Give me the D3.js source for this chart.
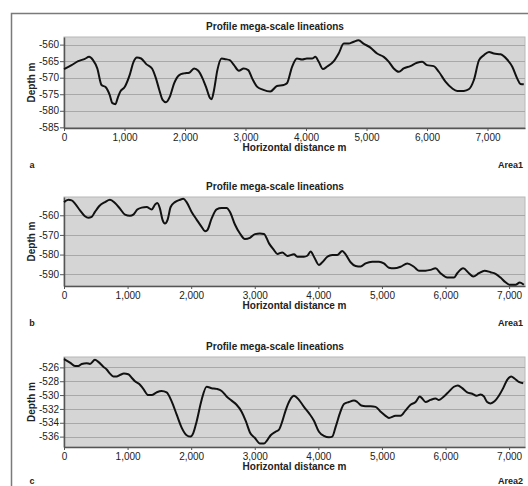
<!DOCTYPE html>
<html>
<head>
<meta charset="utf-8">
<script src="https://cdn.jsdelivr.net/npm/d3@7"></script>
<style>
  body { margin: 0; background: #fff; }
  text { font-family: "Liberation Sans", Arial, sans-serif; }
</style>
</head>
<body>
<div id="chart"></div>
<script>
// profile a (Area1)
var distA = [0, 125, 235, 345, 415, 480, 550, 620, 690, 755, 800, 850, 890, 930, 1000, 1085, 1150, 1205, 1275, 1360,
  1455, 1520, 1575, 1630, 1685, 1750, 1820, 1905, 1985, 2070, 2150, 2220, 2290, 2355, 2415, 2440, 2480, 2535, 2605, 2670,
  2740, 2810, 2890, 2970, 3045, 3110, 3190, 3285, 3410, 3520, 3630, 3685, 3770, 3850, 3935, 4015, 4100, 4155, 4210, 4280,
  4345, 4460, 4540, 4625, 4705, 4780, 4870, 4950, 5065, 5175, 5285, 5370, 5450, 5535, 5615, 5725, 5835, 5920, 6000, 6110,
  6195, 6305, 6415, 6500, 6610, 6690, 6775, 6860, 6940, 7025, 7105, 7215, 7325, 7410, 7490, 7545, 7600];
var depthA = [-567.4, -566.2, -565, -564.3, -563.7, -564.7, -567.2, -572.2, -572.9, -575.2, -577.7, -578, -576, -574.2, -572.9, -569.2, -565.2, -563.9, -564.2, -565.9,
  -567.2, -570.2, -573.7, -576.7, -577.4, -575.7, -571.7, -569.2, -568.7, -568.5, -567.2, -567.9, -570.2, -573.2, -576.2, -576.5, -573.7, -567.7, -564.2, -564.4,
  -564.7, -566.2, -567.9, -567.2, -567.7, -570.2, -572.7, -573.6, -574.2, -572.5, -572.2, -571.7, -566.7, -564.2, -564.5, -564.2, -564.2, -563.7, -565.2, -567.4,
  -566.7, -565, -562.7, -559.7, -559.7, -559.2, -558.7, -559.7, -560.9, -562.7, -563.7, -565.2, -567.2, -568.2, -567.2, -566.5, -565.5, -565.2, -566.2, -566.5,
  -568.2, -571.2, -573.2, -574, -574, -573.5, -570.7, -564.7, -563.2, -562.2, -562.7, -562.9, -564.5, -566.7, -570.2, -571.9, -572];

// profile b (Area1)
var distB = [0, 68, 120, 173, 252, 330, 383, 435, 487, 555, 645, 723, 802, 880, 959, 1038, 1090, 1153, 1221, 1300,
  1378, 1431, 1467, 1509, 1551, 1588, 1630, 1677, 1745, 1824, 1876, 1928, 2007, 2086, 2164, 2217, 2253, 2321, 2400, 2479,
  2557, 2610, 2688, 2767, 2845, 2924, 3003, 3081, 3145, 3224, 3302, 3355, 3433, 3512, 3617, 3669, 3774, 3826, 3879, 3931,
  4010, 4062, 4141, 4219, 4298, 4376, 4429, 4507, 4586, 4665, 4743, 4848, 4953, 5031, 5110, 5189, 5293, 5398, 5503, 5581,
  5686, 5765, 5843, 5922, 6027, 6132, 6184, 6278, 6368, 6436, 6525, 6614, 6708, 6787, 6865, 6944, 7012, 7101, 7169, 7232];
var depthB = [-553.3, -552.1, -552.4, -554.1, -557.5, -560.5, -561.2, -560.8, -558.3, -555.3, -553.3, -552.1, -553.8, -556.6, -559.7, -560.3, -559.7, -557.1, -556.1, -555.8,
  -557.1, -554.6, -553.8, -556.6, -562.5, -564.2, -562.2, -555.8, -553.3, -552.1, -551.6, -553.3, -558.3, -562.2, -565.9, -568.1, -567.6, -561.7, -557, -556.3,
  -556.3, -558.3, -564.7, -569.3, -572.1, -571.5, -569.6, -569.3, -569.5, -574.3, -577.7, -579.7, -578.9, -580.7, -579.9, -581.1, -581.1, -580.6, -578.5, -581.1,
  -585.3, -583.9, -581.1, -580.2, -580.2, -578.2, -579.9, -583.9, -585.8, -586.1, -584.5, -583.6, -583.6, -584.5, -586.7, -587, -586.2, -584.5, -586.2, -588.2,
  -588.2, -587.8, -587, -589.5, -591.7, -591.7, -589.5, -587, -589.5, -591.2, -589.5, -588.2, -589, -589.8, -591.7, -594.1, -595.4, -595.4, -594.2, -595.4];

// profile c (Area2)
var distC = [0, 94, 173, 225, 278, 356, 409, 487, 540, 618, 671, 723, 776, 828, 880, 943, 1011, 1064, 1116, 1184,
  1247, 1326, 1378, 1457, 1535, 1614, 1693, 1771, 1850, 1928, 1991, 2033, 2086, 2164, 2243, 2321, 2400, 2479, 2557, 2636,
  2714, 2793, 2861, 2924, 3003, 3081, 3145, 3197, 3250, 3328, 3381, 3433, 3486, 3554, 3617, 3695, 3774, 3852, 3931, 4010,
  4088, 4167, 4219, 4272, 4340, 4403, 4481, 4560, 4612, 4675, 4743, 4822, 4900, 4979, 5057, 5110, 5215, 5293, 5372, 5450,
  5529, 5597, 5634, 5686, 5765, 5843, 5896, 5974, 6053, 6132, 6195, 6263, 6341, 6420, 6488, 6551, 6603, 6655, 6708, 6771,
  6839, 6907, 6970, 7033, 7085, 7153, 7222];
var depthC = [-524.8, -525.3, -525.8, -525.8, -525.5, -525.4, -525.5, -524.9, -525.2, -525.9, -526.3, -526.9, -527.3, -527.3, -527.1, -526.9, -527, -527.5, -528, -528.4,
  -529.1, -530, -530, -529.6, -529.4, -529.6, -530.9, -532.8, -534.7, -535.8, -536, -535.5, -533.8, -530.7, -528.8, -529, -529.1, -529.4, -530.2, -530.8,
  -531.4, -532.4, -533.8, -535.4, -536.2, -537, -537, -536.5, -535.8, -535.3, -535, -533.8, -532.2, -530.7, -530.1, -530.7, -531.7, -532.6, -533.7, -535.3,
  -535.9, -536.1, -536, -534.6, -532.6, -531.3, -531, -530.8, -531, -531.5, -531.6, -531.6, -531.7, -532.4, -533, -533.3, -533, -533, -532.2, -531.4,
  -531, -530.2, -530.5, -531, -530.7, -530.5, -530.7, -530.2, -529.5, -528.8, -528.6, -529, -529.6, -529.8, -530.1, -529.9, -530.2, -531, -531.2, -530.9,
  -530.1, -529, -527.8, -527.3, -527.6, -528.1, -528.3];

var xTicks = [0, 1000, 2000, 3000, 4000, 5000, 6000, 7000];
var yTicksA = [-585, -580, -575, -570, -565, -560];
var yTicksB = [-590, -580, -570, -560];
var yTicksC = [-536, -534, -532, -530, -528, -526];

var panelTitle = "Profile mega-scale lineations";
var xTitle = "Horizontal distance m";
var yTitle = "Depth m";

var svgWidth = 528;
var svgHeight = 486;

var svg = d3.select("#chart")
  .append("svg")
  .attr("width", svgWidth)
  .attr("height", svgHeight);

// outer frame (left and top edges only are visible)
svg.append("path")
  .attr("d", "M11.5,486 V13.5 H528")
  .attr("fill", "none")
  .attr("stroke", "#7a7a7a")
  .attr("stroke-width", 1.5);

var panels = [
  { dist: distA, depth: depthA, xMax: 7620, yDom: [-585.2, -557.7], yTicks: yTicksA, top: 37, bottom: 128, foot: 168, letter: "a", area: "Area1" },
  { dist: distB, depth: depthB, xMax: 7250, yDom: [-596, -550.7], yTicks: yTicksB, top: 197, bottom: 286, foot: 326, letter: "b", area: "Area1" },
  { dist: distC, depth: depthC, xMax: 7250, yDom: [-537.5, -524.5], yTicks: yTicksC, top: 357, bottom: 447, foot: 484, letter: "c", area: "Area2" }
];

var left = 64;
var right = 525;

// keep the plain hyphen of the original instead of d3's minus sign
var plain = d => String(d);

panels.forEach(function(p) {
  var x = d3.scaleLinear().domain([0, p.xMax]).range([left, right]);
  var y = d3.scaleLinear().domain(p.yDom).range([p.bottom, p.top]);
  var g = svg.append("g");

  // plot background
  g.append("rect")
    .attr("x", left)
    .attr("y", p.top)
    .attr("width", right - left)
    .attr("height", p.bottom - p.top)
    .attr("fill", "#d5d5d5")
    .attr("stroke", "#b8b8b8")
    .attr("stroke-width", 1);

  // horizontal grid
  g.selectAll(".grid")
    .data(p.yTicks)
    .enter()
    .append("line")
    .attr("x1", left)
    .attr("x2", right)
    .attr("y1", d => Math.round(y(d)) + 0.5)
    .attr("y2", d => Math.round(y(d)) + 0.5)
    .attr("stroke", "#a8a8a8")
    .attr("stroke-width", 1);

  var xAxis = g.append("g")
    .attr("transform", `translate(0, ${p.bottom})`)
    .call(d3.axisBottom(x).tickValues(xTicks).tickFormat(d3.format(",")).tickSize(3).tickPadding(3).tickSizeOuter(0));

  var yAxis = g.append("g")
    .attr("transform", `translate(${left}, 0)`)
    .call(d3.axisLeft(y).tickValues(p.yTicks).tickFormat(plain).tickSize(4).tickPadding(1).tickSizeOuter(0));

  [xAxis, yAxis].forEach(function(a) {
    a.select(".domain").attr("stroke", "#555").attr("stroke-width", 1.5);
    a.selectAll(".tick line").attr("stroke", "#555");
    a.selectAll("text")
      .attr("fill", "#222")
      .attr("font-size", "10px")
      .style("font-family", "'Liberation Sans', Arial, sans-serif");
  });

  // profile line
  var line = d3.line()
    .x(d => x(d[0]))
    .y(d => y(d[1]))
    .curve(d3.curveMonotoneX);

  g.append("path")
    .datum(d3.zip(p.dist, p.depth))
    .attr("d", line)
    .attr("fill", "none")
    .attr("stroke", "#111")
    .attr("stroke-width", 2)
    .attr("stroke-linejoin", "round");

  g.append("text")
    .attr("x", 275)
    .attr("y", p.top - 7)
    .attr("text-anchor", "middle")
    .attr("font-size", "10px")
    .attr("font-weight", "bold")
    .attr("fill", "#222")
    .text(panelTitle);

  g.append("text")
    .attr("x", (left + right) / 2)
    .attr("y", p.bottom + 23)
    .attr("text-anchor", "middle")
    .attr("font-size", "10px")
    .attr("font-weight", "bold")
    .attr("fill", "#222")
    .text(xTitle);

  g.append("text")
    .attr("transform", `translate(35, ${(p.top + p.bottom) / 2}) rotate(-90)`)
    .attr("text-anchor", "middle")
    .attr("font-size", "10px")
    .attr("font-weight", "bold")
    .attr("fill", "#222")
    .text(yTitle);

  g.append("text")
    .attr("x", 32)
    .attr("y", p.foot)
    .attr("text-anchor", "middle")
    .attr("font-size", "9px")
    .attr("font-weight", "bold")
    .attr("fill", "#222")
    .text(p.letter);

  g.append("text")
    .attr("x", 523)
    .attr("y", p.foot)
    .attr("text-anchor", "end")
    .attr("font-size", "9px")
    .attr("font-weight", "bold")
    .attr("fill", "#222")
    .text(p.area);
});
</script>
</body>
</html>
